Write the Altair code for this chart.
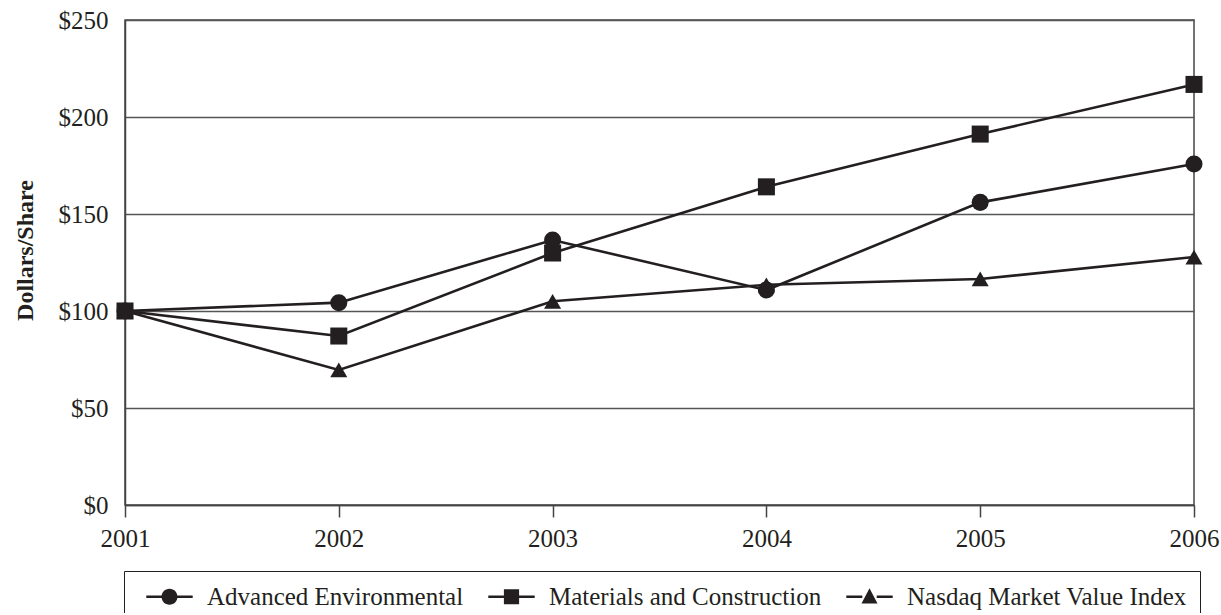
import altair as alt
import pandas as pd

years = [2001, 2002, 2003, 2004, 2005, 2006]
series_names = ["Advanced Environmental", "Materials and Construction", "Nasdaq Market Value Index"]
advanced = [100, 104.3, 136.6, 110.8, 156.0, 175.8]
materials = [100, 87.1, 129.9, 164.0, 191.2, 216.8]
nasdaq = [100, 69.6, 105.0, 113.5, 116.5, 127.8]
y_ticks = [0, 50, 100, 150, 200, 250]

rows = []
for name, vals in zip(series_names, [advanced, materials, nasdaq]):
    for yr, v in zip(years, vals):
        rows.append({"Year": yr, "Value": v, "Series": name})
df = pd.DataFrame(rows)

INK = "#231f20"
FONT = "Liberation Serif"

x_enc = alt.X(
    "Year:Q",
    scale=alt.Scale(domain=[2001, 2006], nice=False, zero=False),
    axis=alt.Axis(
        values=years, format="d", title=None, grid=False,
        ticks=True, tickSize=12, tickColor="#444444", tickWidth=1.5,
        domain=True, domainColor="#444444", domainWidth=1.5,
        labelFlush=False, labelOverlap=False, labelPadding=9,
        labelFont=FONT, labelFontSize=25, labelColor=INK,
    ),
)
y_enc = alt.Y(
    "Value:Q",
    scale=alt.Scale(domain=[0, 250], nice=False),
    axis=alt.Axis(
        values=y_ticks, labelExpr="'$' + datum.value",
        title="Dollars/Share", titleFont=FONT, titleFontSize=24, titleFontWeight="bold",
        titleColor=INK, titleX=-88, titleY=230,
        grid=True, gridColor="#555555", gridWidth=1.5,
        ticks=False, domain=True, domainColor="#444444", domainWidth=1.5,
        labelPadding=17, labelFont=FONT, labelFontSize=25, labelColor=INK,
    ),
)

lines = alt.Chart(df).mark_line(color=INK, strokeWidth=2.6).encode(
    x=x_enc, y=y_enc, detail="Series:N"
)

points = alt.Chart(df).mark_point(filled=True, color=INK, opacity=1, size=290).encode(
    x=x_enc, y=y_enc,
    shape=alt.Shape(
        "Series:N",
        scale=alt.Scale(domain=series_names, range=["circle", "square", "triangle-up"]),
        legend=None,
    ),
)

# legend glyphs: a short line segment on both sides of the marker (filled shapes only)
stub = "M-2.9,-0.16H-0.9V0.16H-2.9ZM0.9,-0.16H2.9V0.16H0.9Z"
legend_paths = [
    stub + "M0,-1A1,1 0 1,1 0,1A1,1 0 1,1 0,-1Z",
    stub + "M-0.95,-0.95H0.95V0.95H-0.95Z",
    stub + "M0,-1.05L1,0.85L-1,0.85Z",
]

legend_layer = alt.Chart(df).mark_point(filled=True, color=INK, opacity=0, size=256).encode(
    x=x_enc, y=y_enc,
    shape=alt.Shape(
        "Series:N",
        scale=alt.Scale(domain=series_names, range=legend_paths),
        legend=alt.Legend(
            title=None, orient="none", direction="horizontal",
            legendX=-1, legendY=551,
            strokeColor=INK, padding=13,
            symbolSize=256, symbolOpacity=1, symbolFillColor=INK,
            symbolOffset=20, labelOffset=25, columnPadding=15,
            labelFont=FONT, labelFontSize=25, labelColor=INK, labelLimit=0,
        ),
    ),
)

chart = (
    alt.layer(lines, points, legend_layer)
    .resolve_scale(shape="independent")
    .properties(
        width=1069, height=485,
        autosize=alt.AutoSizeParams(type="none"),
        padding={"left": 125, "top": 20, "right": 27, "bottom": 108},
        background="white",
    )
    .configure_view(stroke="#444444", strokeWidth=1.5)
)

chart.save("out.html", embed_options={"renderer": "svg", "actions": False})
